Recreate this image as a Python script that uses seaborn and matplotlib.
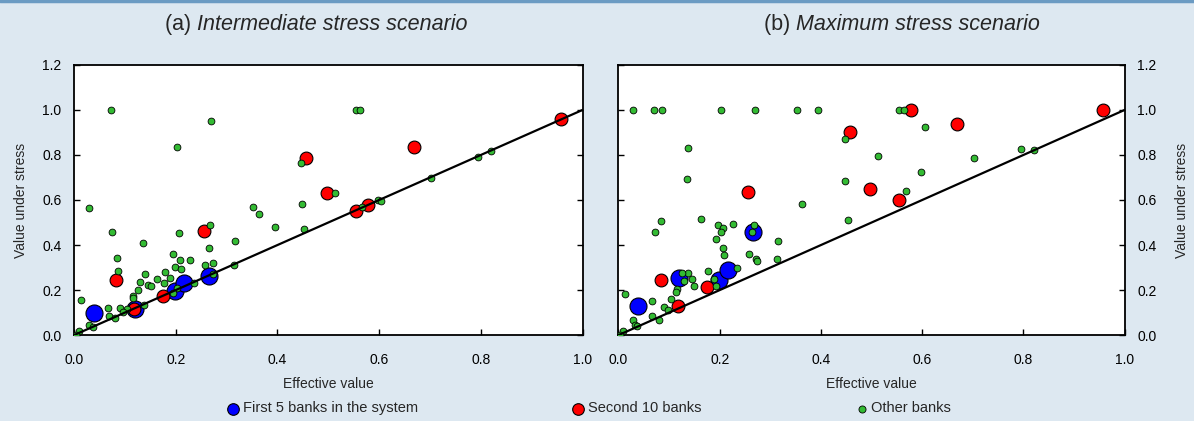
import pandas as pd
import matplotlib.pyplot as plt
import seaborn as sns
from matplotlib.lines import Line2D

# Effective values (shared by both scenarios)
first5_x = [0.039, 0.120, 0.199, 0.217, 0.265]
second10_x = [0.083, 0.117, 0.174, 0.256, 0.457, 0.497, 0.554, 0.578, 0.668, 0.958]

# (a) intermediate stress
a_first5_y = [0.099, 0.117, 0.196, 0.230, 0.262]
a_second10_y = [0.244, 0.114, 0.172, 0.461, 0.785, 0.632, 0.552, 0.576, 0.837, 0.959]
a_other_x = [0.072, 0.203, 0.269, 0.447, 0.029, 0.352, 0.363, 0.449, 0.268, 0.075, 0.206, 0.396,
             0.453, 0.136, 0.316, 0.266, 0.084, 0.194, 0.208, 0.228, 0.086, 0.198, 0.210, 0.257,
             0.274, 0.314, 0.178, 0.139, 0.189, 0.164, 0.177, 0.130, 0.146, 0.151, 0.235, 0.126,
             0.115, 0.115, 0.203, 0.273, 0.194, 0.138, 0.090, 0.104, 0.067, 0.068, 0.080, 0.097,
             0.014, 0.029, 0.037, 0.010, 0.003, 0.555, 0.563, 0.701, 0.795, 0.820, 0.598, 0.513,
             0.566, 0.604]
a_other_y = [1.000, 0.836, 0.952, 0.766, 0.563, 0.568, 0.538, 0.581, 0.490, 0.458, 0.453, 0.481,
             0.470, 0.410, 0.416, 0.387, 0.342, 0.360, 0.335, 0.335, 0.286, 0.302, 0.295, 0.310,
             0.320, 0.311, 0.280, 0.272, 0.252, 0.249, 0.231, 0.236, 0.224, 0.218, 0.231, 0.199,
             0.172, 0.163, 0.210, 0.270, 0.188, 0.135, 0.121, 0.117, 0.120, 0.084, 0.077, 0.101,
             0.156, 0.046, 0.036, 0.019, 0.000, 1.000, 1.000, 0.699, 0.793, 0.819, 0.600, 0.632,
             0.567, 0.594]

# (b) maximum stress
b_first5_y = [0.130, 0.252, 0.246, 0.289, 0.456]
b_second10_y = [0.246, 0.129, 0.213, 0.634, 0.904, 0.647, 0.598, 1.000, 0.936, 1.000]
b_other_x = [0.028, 0.071, 0.085, 0.202, 0.269, 0.352, 0.395, 0.555, 0.563, 0.137, 0.136, 0.447,
             0.448, 0.605, 0.513, 0.702, 0.796, 0.821, 0.598, 0.567, 0.363, 0.453, 0.083, 0.073,
             0.163, 0.197, 0.206, 0.202, 0.227, 0.268, 0.264, 0.192, 0.206, 0.208, 0.316, 0.258,
             0.272, 0.274, 0.313, 0.235, 0.188, 0.193, 0.177, 0.138, 0.125, 0.130, 0.146, 0.150,
             0.115, 0.114, 0.103, 0.066, 0.090, 0.097, 0.067, 0.080, 0.013, 0.028, 0.033, 0.037,
             0.009, 0.003]
b_other_y = [1.000, 1.000, 1.000, 1.000, 1.000, 1.000, 1.000, 1.000, 1.000, 0.831, 0.693, 0.871,
             0.683, 0.924, 0.794, 0.785, 0.825, 0.824, 0.723, 0.640, 0.582, 0.510, 0.505, 0.458,
             0.517, 0.489, 0.477, 0.458, 0.495, 0.490, 0.456, 0.428, 0.388, 0.357, 0.416, 0.359,
             0.339, 0.329, 0.338, 0.296, 0.250, 0.216, 0.286, 0.277, 0.276, 0.239, 0.248, 0.218,
             0.203, 0.190, 0.161, 0.150, 0.124, 0.112, 0.087, 0.068, 0.182, 0.067, 0.043, 0.041,
             0.019, 0.000]

titles = ["Intermediate stress scenario", "Maximum stress scenario"]
tags = ["(a) ", "(b) "]
series_labels = ["First 5 banks in the system", "Second 10 banks", "Other banks"]
ticks = [0.0, 0.2, 0.4, 0.6, 0.8, 1.0, 1.2]

sns.set_style("white")
plt.rcParams['font.family'] = ['Liberation Sans', 'DejaVu Sans']

bg = '#dde8f1'
fig = plt.figure(figsize=(11.94, 4.21), dpi=100, facecolor=bg)
ax1 = fig.add_axes([0.062, 0.204, 0.426, 0.642])
ax2 = fig.add_axes([0.518, 0.204, 0.424, 0.642])

panels = [
    (ax1, a_first5_y, a_second10_y, a_other_x, a_other_y),
    (ax2, b_first5_y, b_second10_y, b_other_x, b_other_y),
]

title_parts = []
for i, (ax, f5y, s10y, ox, oy) in enumerate(panels):
    sns.scatterplot(x=first5_x, y=f5y, ax=ax, color='#0000ff', s=150,
                    edgecolor='black', linewidth=0.8, label=series_labels[0], zorder=3)
    sns.scatterplot(x=second10_x, y=s10y, ax=ax, color='#ff0000', s=85,
                    edgecolor='black', linewidth=0.8, label=series_labels[1], zorder=4)
    sns.scatterplot(x=ox, y=oy, ax=ax, color='#33bb33', s=24,
                    edgecolor='black', linewidth=0.6, label=series_labels[2], zorder=5)
    ax.plot([0, 1], [0, 1], color='black', lw=1.6, zorder=6)

    ax.set_xlim(0, 1)
    ax.set_ylim(0, 1.2)
    ax.set_xticks(ticks[:6])
    ax.set_yticks(ticks)
    ax.set_xticklabels([f"{t:.1f}" for t in ticks[:6]])
    ax.set_yticklabels([f"{t:.1f}" for t in ticks])
    ax.set_facecolor('white')
    for sp in ax.spines.values():
        sp.set_color('black')
        sp.set_linewidth(1.3)
    ax.tick_params(direction='in', length=4, width=1, labelsize=10, colors='black',
                   left=True, right=True, bottom=True, top=False)
    ax.tick_params(axis='x', pad=13)
    ax.tick_params(axis='y', pad=9)
    ax.set_xlabel("Effective value", fontsize=10, labelpad=7)
    ax.legend_.remove()

    # title: tag upright, rest italic
    t = fig.text(0.3, 0.928, tags[i], fontsize=15.5, ha='left', va='baseline')
    a = ax.annotate(titles[i], xy=(1, 0), xycoords=t, va='bottom', fontsize=15.5,
                    style='italic')
    title_parts.append((t, a, [316, 902][i]))

ax1.tick_params(labelleft=True, labelright=False)
ax1.set_ylabel("Value under stress", fontsize=10, labelpad=10)
ax2.tick_params(labelleft=False, labelright=True)
ax2.yaxis.set_label_position('right')
ax2.set_ylabel("Value under stress", fontsize=10, labelpad=13)

# centre each two-part title on its reference position
fig.canvas.draw()
r = fig.canvas.get_renderer()
for t, a, cpx in title_parts:
    w = t.get_window_extent(r).width + a.get_window_extent(r).width
    t.set_x((cpx - w / 2) / fig.bbox.width)

# top rule
fig.add_artist(Line2D([0, 1], [0.997, 0.997], color='#6b9bc3', lw=2.5, transform=fig.transFigure))

handles, labels = ax1.get_legend_handles_labels()
leg = fig.legend(handles, labels, loc='center', bbox_to_anchor=(0.493, 0.03), ncol=3,
                 frameon=False, fontsize=10.5, handlelength=1.0, handletextpad=0.15,
                 columnspacing=10.5, borderaxespad=0)
for h, sz in zip(leg.legend_handles, [70, 70, 26]):
    h.set_sizes([sz])

fig.savefig("out.png", dpi=100, facecolor=bg)
